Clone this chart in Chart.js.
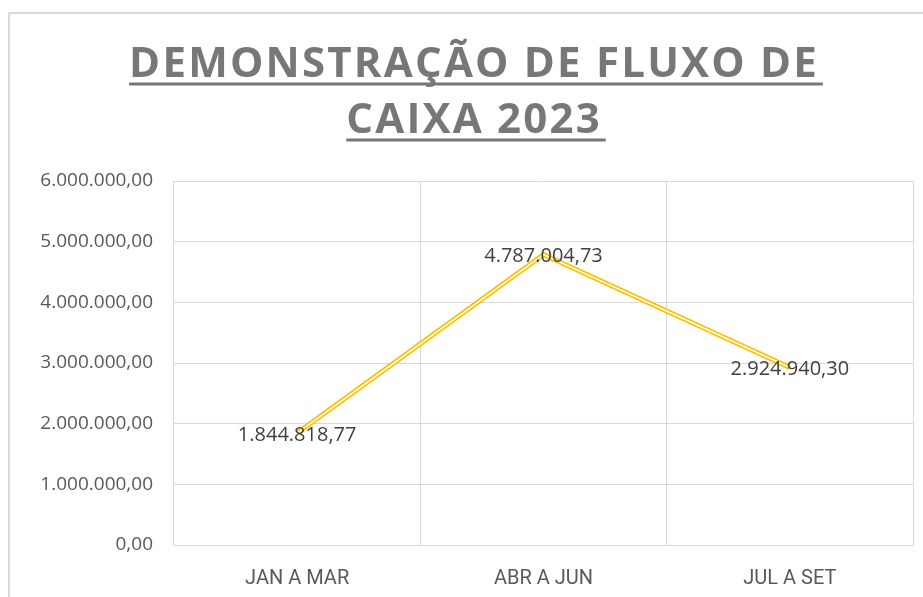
<!DOCTYPE html>
<html>
<head>
<meta charset="utf-8">
<script src="https://cdn.jsdelivr.net/npm/chart.js@4/dist/chart.umd.min.js"></script>
<style>
  html, body { margin: 0; padding: 0; background: #fff; }
  #wrap { width: 923px; height: 597px; }
</style>
</head>
<body>
<div id="wrap"><canvas id="fluxoChart" width="923" height="597"></canvas></div>
<script>
// --- Data ---
const titleLines = ['DEMONSTRAÇÃO DE FLUXO DE', 'CAIXA 2023'];
const categories = ['JAN A MAR', 'ABR A JUN', 'JUL A SET'];
const fluxo = [1844818.77, 4787004.73, 2924940.30];
const yMin = 0;
const yMax = 6000000;
const yStep = 1000000;

// pt-BR style number: 1.844.818,77
function formatBRL(v) {
    const parts = v.toFixed(2).split('.');
    const inteiro = parts[0].replace(/\B(?=(\d{3})+(?!\d))/g, '.');
    return inteiro + ',' + parts[1];
}

// --- Frame + title ---
const framePlugin = {
    id: 'frame',
    beforeDraw(chart) {
        const ctx = chart.ctx;
        ctx.save();
        ctx.strokeStyle = '#d9d9d9';
        ctx.lineWidth = 2;
        ctx.strokeRect(9, 13, 1000, 1000);
        ctx.restore();
    },
    afterDraw(chart) {
        const ctx = chart.ctx;
        const cx = 473;
        const baselines = [77, 133];
        ctx.save();
        ctx.font = 'bold 42px "Open Sans", "Noto Sans", sans-serif';
        ctx.fillStyle = '#777777';
        ctx.strokeStyle = '#777777';
        ctx.textAlign = 'left';
        ctx.textBaseline = 'alphabetic';
        // spread the first line to the reference width (wide tracking)
        ctx.letterSpacing = '0px';
        const w0 = ctx.measureText(titleLines[0]).width;
        const ls = (690 - w0) / titleLines[0].length;
        ctx.letterSpacing = ls + 'px';
        titleLines.forEach((line, i) => {
            const w = ctx.measureText(line).width - ls;
            const x0 = cx - w / 2;
            ctx.fillText(line, x0, baselines[i]);
            ctx.lineWidth = 3;
            ctx.beginPath();
            ctx.moveTo(x0, baselines[i] + 7);
            ctx.lineTo(x0 + w + 6, baselines[i] + 7);
            ctx.stroke();
        });
        ctx.restore();
    }
};

// --- Inner white stroke (double line look) + data labels ---
const doubleLinePlugin = {
    id: 'doubleLine',
    afterDatasetsDraw(chart) {
        const ctx = chart.ctx;
        const pts = chart.getDatasetMeta(0).data;
        ctx.save();
        ctx.strokeStyle = '#ffffff';
        ctx.lineWidth = 1.5;
        ctx.beginPath();
        pts.forEach((p, i) => {
            if (i === 0) ctx.moveTo(p.x, p.y);
            else ctx.lineTo(p.x, p.y);
        });
        ctx.stroke();

        ctx.font = '20px "Open Sans", "Noto Sans", sans-serif';
        ctx.fillStyle = '#404040';
        ctx.textAlign = 'center';
        ctx.textBaseline = 'middle';
        pts.forEach((p, i) => {
            ctx.fillText(formatBRL(fluxo[i]), p.x, p.y + 2);
        });
        ctx.restore();
    }
};

const ctx = document.getElementById('fluxoChart').getContext('2d');
const fluxoChart = new Chart(ctx, {
    type: 'line',
    data: {
        labels: categories,
        datasets: [{
            data: fluxo,
            borderColor: '#FFC000',
            borderWidth: 5,
            tension: 0,
            pointRadius: 0,
            pointHoverRadius: 0,
            fill: false
        }]
    },
    options: {
        responsive: false,
        animation: false,
        events: [],
        layout: { padding: { top: 181, right: 10, bottom: 0, left: 0 } },
        plugins: {
            legend: { display: false },
            tooltip: { enabled: false }
        },
        scales: {
            x: {
                offset: true,
                grid: { offset: true, color: '#d9d9d9', drawTicks: false },
                border: { color: '#d9d9d9' },
                ticks: {
                    color: '#595959',
                    padding: 22,
                    font: { family: 'Roboto, "Noto Sans", sans-serif', size: 20 }
                },
                afterFit(scale) { scale.height = 52; }
            },
            y: {
                min: yMin,
                max: yMax,
                grid: { color: '#d9d9d9', drawTicks: false },
                border: { display: false },
                ticks: {
                    stepSize: yStep,
                    color: '#595959',
                    padding: 21,
                    font: { family: '"Open Sans", "Noto Sans", sans-serif', size: 19 },
                    callback: v => formatBRL(v)
                },
                afterFit(scale) { scale.width = 174; }
            }
        }
    },
    plugins: [framePlugin, doubleLinePlugin]
});
</script>
</body>
</html>
